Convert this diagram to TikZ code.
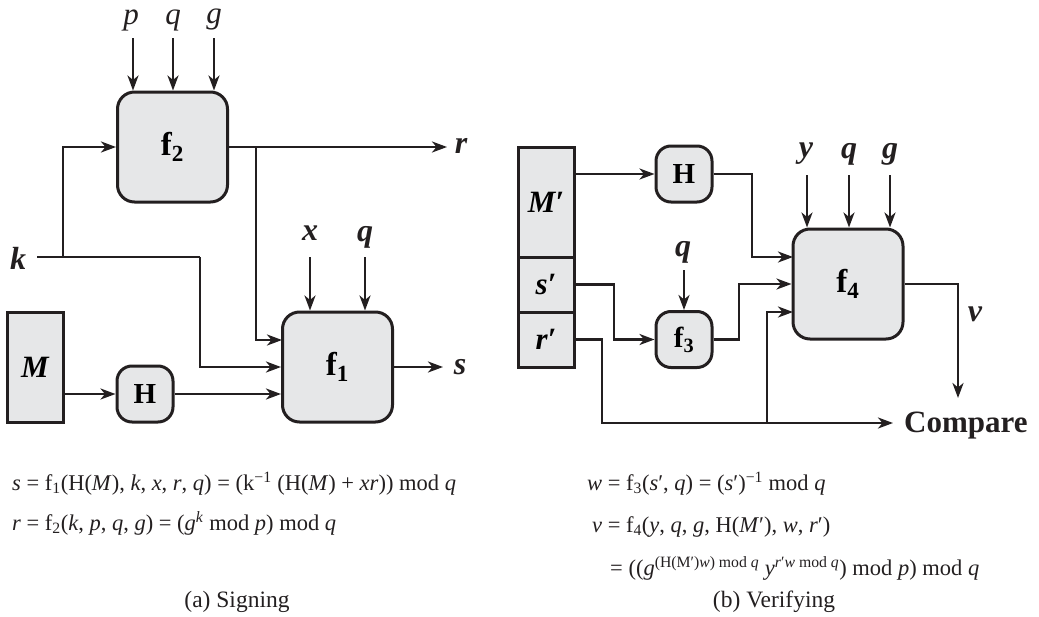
\documentclass[tikz,border=0pt]{standalone}
\usepackage{fontspec}
\setmainfont{Liberation Serif}
\usetikzlibrary{arrows.meta}
\definecolor{boxfill}{RGB}{230,231,232}
\definecolor{ink}{RGB}{35,31,32}
\newcommand\mi[1]{\textit{#1}}
\tikzset{
  fbox/.style={draw=ink, fill=boxfill, line width=3pt, rounded corners=17pt,
    minimum width=110pt, minimum height=110pt, inner sep=0pt,
    font=\fontsize{33}{38}\selectfont\bfseries},
  hbox/.style={draw=ink, fill=boxfill, line width=3pt, rounded corners=15pt,
    minimum width=56pt, minimum height=56pt, inner sep=0pt,
    font=\fontsize{29}{34}\selectfont\bfseries},
  mbox/.style={draw=ink, fill=boxfill, line width=3pt, inner sep=0pt,
    minimum width=56pt, font=\fontsize{31}{36}\selectfont\bfseries\itshape},
  lab/.style={inner sep=0pt, text=ink, font=\fontsize{32}{36}\selectfont\bfseries\itshape},
  labr/.style={inner sep=0pt, text=ink, font=\fontsize{31}{36}\selectfont\itshape},
  arr/.style={draw=ink, line width=2.7pt, -{Stealth[length=15pt,width=11pt,inset=4.5pt]}},
  ln/.style={draw=ink, line width=2.7pt},
  eq/.style={inner sep=0pt, anchor=base west, text=ink, font=\fontsize{22.5}{26}\selectfont},
  capt/.style={inner sep=0pt, anchor=base, text=ink, font=\fontsize{23.5}{28}\selectfont},
}
\begin{document}
\begin{tikzpicture}[x=1pt,y=-1pt]
\useasboundingbox (0,0) rectangle (1039,616);

% ---------------- (a) Signing ----------------
\node[fbox] (f2) at (172.5,147) {f\textsubscript{2}};
\node[fbox] (f1) at (337.5,367) {f\textsubscript{1}};
\node[mbox, minimum height=110pt] (M) at (35,367) {M};
\node[hbox] (H1) at (145,394) {H};

\node[labr] (plab) at (131,20) {p};
\node[labr] (qlab) at (173,20) {q};
\node[labr] (glab) at (214,20) {g};
\coordinate (pin) at (133,38);
\coordinate (qin) at (173,38);
\coordinate (gin) at (214,38);
\draw[arr] (pin) -- (pin |- f2.north);
\draw[arr] (qin) -- (qin |- f2.north);
\draw[arr] (gin) -- (gin |- f2.north);

\node[lab] (klab) at (18,258) {k};
\coordinate (kst) at (37,257);
\coordinate (kb) at (63,257);
\coordinate (kc) at (200,257);
\draw[arr] (kb) |- (f2.west);
\draw[ln] (kst) -- (kc);
\draw[arr] (kc) |- (f1.west);

\coordinate (rend) at (447,147);
\node[lab] (rlab) at (461,146) {r};
\draw[arr] (f2.east) -- (rend);
\coordinate (rb) at (256,147);
\coordinate (f1in1) at (282,340);
\draw[arr] (rb) |- (f1in1);

\node[lab] (xlab) at (310,233) {x};
\node[lab] (q1lab) at (365,237) {q};
\coordinate (xin) at (310,257);
\coordinate (q1in) at (365,257);
\draw[arr] (xin) -- (xin |- f1.north);
\draw[arr] (q1in) -- (q1in |- f1.north);

\coordinate (send) at (443,367);
\node[lab] (slab) at (460,367) {s};
\draw[arr] (f1.east) -- (send);

\draw[arr] (M.east |- H1) -- (H1.west);
\draw[arr] (H1.east) -- (H1.east -| f1.west);

\node[eq] (eqs) at (12,490) {\mi{s} = f\textsubscript{1}(H(\mi{M}), \mi{k}, \mi{x}, \mi{r}, \mi{q}) = (k\textsuperscript{−1} (H(\mi{M}) + \mi{xr})) mod \mi{q}};
\node[eq] (eqr) at (12,530) {\mi{r} = f\textsubscript{2}(\mi{k}, \mi{p}, \mi{q}, \mi{g}) = (\mi{g}\textsuperscript{\mi{k}} mod \mi{p}) mod \mi{q}};
\node[capt] (capa) at (237,607) {(a) Signing};

% ---------------- (b) Verifying ----------------
\node[mbox, minimum height=110pt] (Mp) at (546,202) {M′};
\node[mbox, minimum height=55pt] (sp) at (546,284.5) {s′};
\node[mbox, minimum height=55pt] (rp) at (546,339.5) {r′};
\node[hbox] (H2) at (684,174) {H};
\node[hbox] (f3) at (684,339.5) {f\textsubscript{3}};
\node[fbox] (f4) at (848,284) {f\textsubscript{4}};

\node[lab] (ylab) at (806,154) {y};
\node[lab] (q4lab) at (849,154) {q};
\node[lab] (g4lab) at (890,154) {g};
\coordinate (yin) at (807,175);
\coordinate (q4in) at (849,175);
\coordinate (g4in) at (890,175);
\draw[arr] (yin) -- (yin |- f4.north);
\draw[arr] (q4in) -- (q4in |- f4.north);
\draw[arr] (g4in) -- (g4in |- f4.north);

\node[lab] (q3lab) at (683,252) {q};
\coordinate (q3in) at (684,270);
\draw[arr] (q3in) -- (f3.north);

\draw[arr] (Mp.east |- H2) -- (H2.west);
\coordinate (hx) at (752,174);
\coordinate (f4in1) at (793,257);
\draw[arr] (H2.east) -- (hx) |- (f4in1);

\coordinate (sx) at (614,284.5);
\draw[arr] (sp.east) -- (sx) |- (f3.west);
\coordinate (f3x) at (739,339.5);
\draw[arr] (f3.east) -- (f3x) |- (f4.west);

\node[anchor=base west, inner sep=0pt, text=ink, font=\fontsize{31}{36}\selectfont\bfseries] (cmp) at (904,432) {Compare};
\coordinate (rx) at (602,339.5);
\coordinate (cmpin) at (893,423);
\draw[arr] (rp.east) -- (rx) |- (cmpin);
\coordinate (cb) at (767,423);
\coordinate (f4in3) at (793,312);
\draw[arr] (cb) |- (f4in3);

\coordinate (vx) at (958,284);
\coordinate (vend) at (958,398);
\draw[arr] (f4.east) -- (vx) -- (vend);
\node[lab] (vlab) at (975,314) {v};

\node[eq] (eqw) at (587,490) {\mi{w} = f\textsubscript{3}(\mi{s}′, \mi{q}) = (\mi{s}′)\textsuperscript{−1} mod \mi{q}};
\node[eq] (eqv) at (592,532) {\mi{v} = f\textsubscript{4}(\mi{y}, \mi{q}, \mi{g}, H(\mi{M}′), \mi{w}, \mi{r}′)};
\node[eq] (eqv2) at (610,575) {= ((\mi{g}\textsuperscript{(H(M′)\mi{w}) mod \mi{q}} \mi{y}\textsuperscript{\mi{r}′\mi{w} mod \mi{q}}) mod \mi{p}) mod \mi{q}};
\node[capt] (capb) at (774,607) {(b) Verifying};
\end{tikzpicture}
\end{document}
